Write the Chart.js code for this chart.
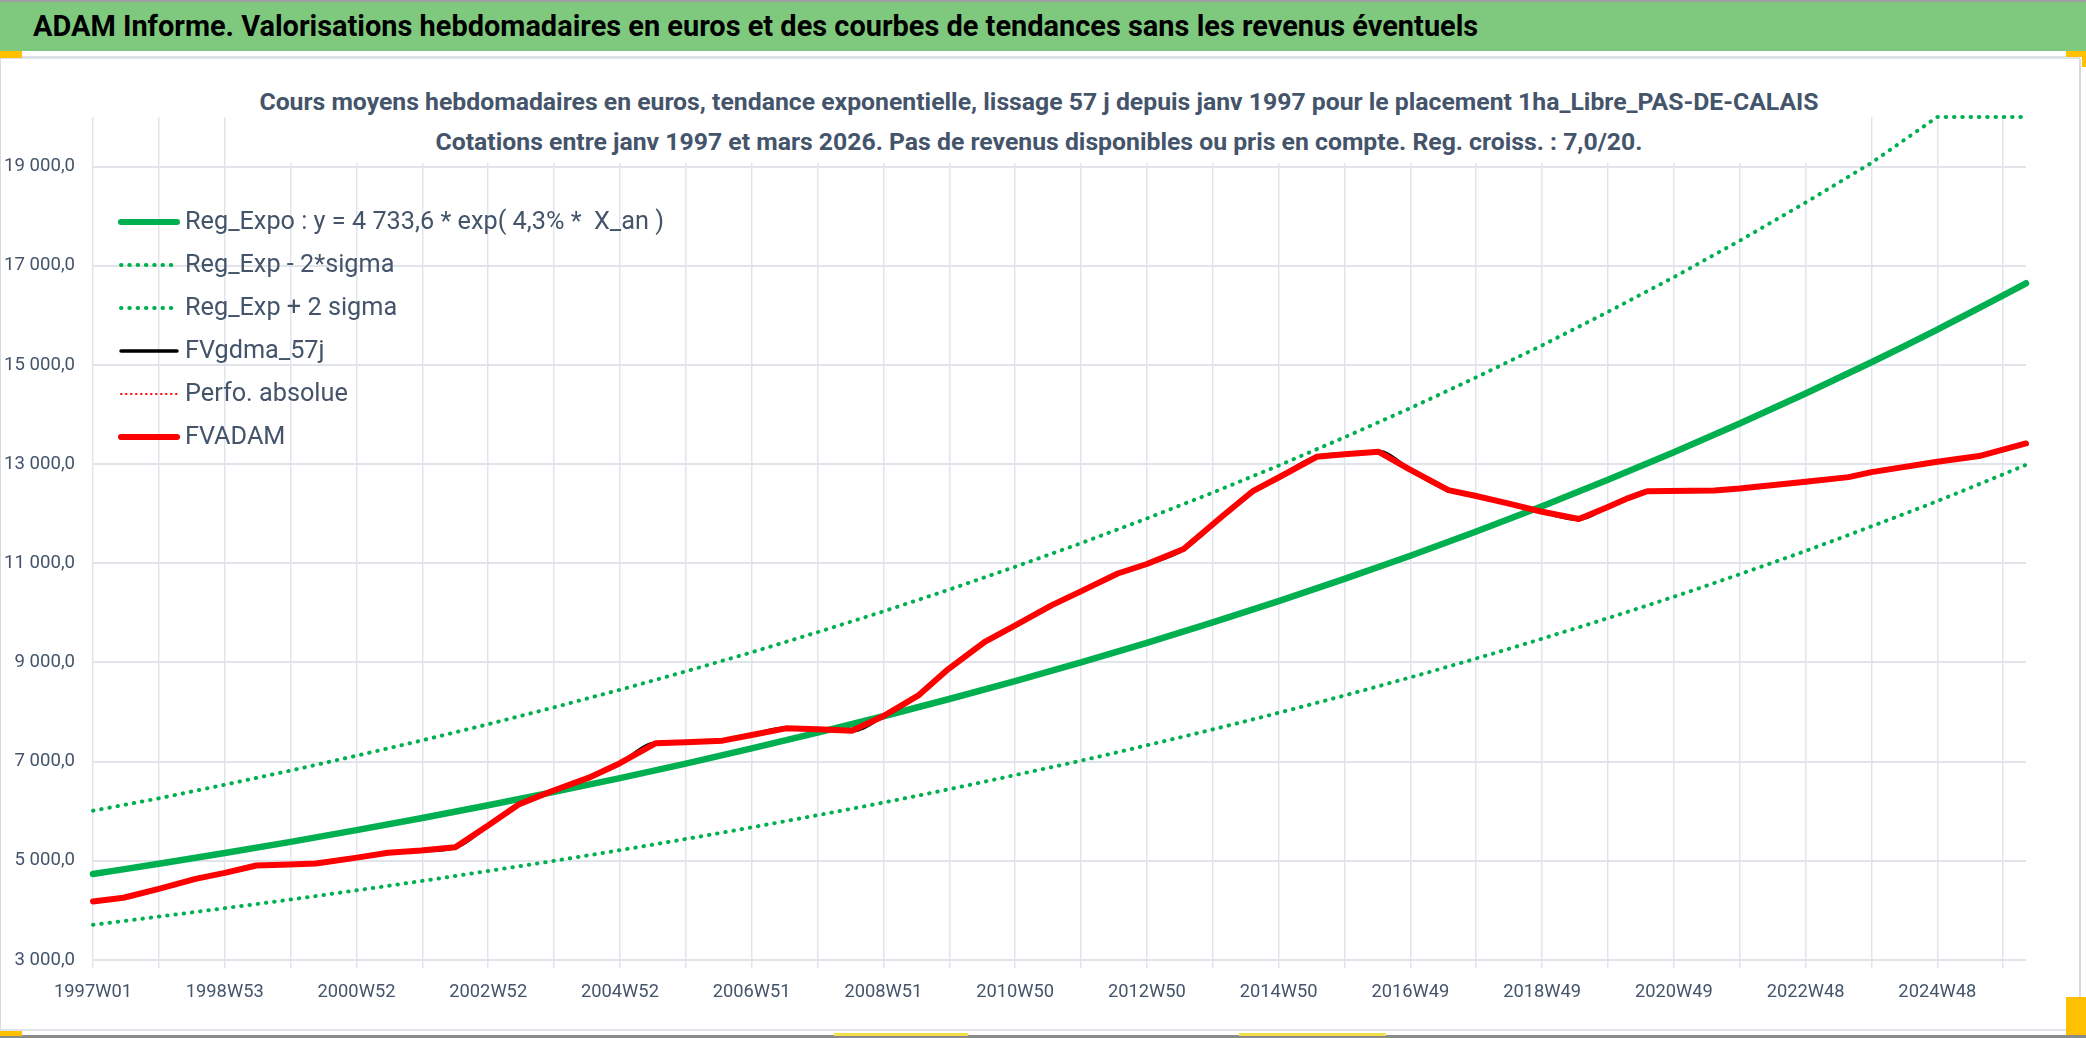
<!DOCTYPE html>
<html lang="fr">
<head>
<meta charset="utf-8">
<title>ADAM Informe</title>
<script src="https://cdn.jsdelivr.net/npm/chart.js@4.4.1/dist/chart.umd.min.js"></script>
<style>
  html, body { margin: 0; padding: 0; background: #fff; }
  body { width: 2086px; height: 1038px; position: relative; overflow: hidden;
         font-family: Roboto, 'Open Sans', sans-serif; }
  .abs { position: absolute; }
  #banner { left: 0; top: 2px; width: 2086px; height: 49px; background: #7fc97f;
            font-weight: bold; font-size: 28px; line-height: 49px; color: #000;
            white-space: nowrap; }
  #banner span { position: absolute; left: 33px; }
  #chartBox { left: 0; top: 60px; width: 2080px; height: 970px; }
  #chartTitle { left: 259px; top: 82px; width: 1560px; height: 81px; background: #fff;
                text-align: center; font-weight: bold; font-size: 23px; line-height: 40px;
                color: #44546a; white-space: nowrap; }
</style>
</head>
<body>
<div class="abs" style="left:0;top:0;width:2086px;height:2px;background:#a0a0a0"></div>
<div id="banner" class="abs"><span id="bannerText">ADAM Informe. Valorisations hebdomadaires en euros et des courbes de tendances sans les revenus éventuels</span></div>
<div class="abs" style="left:0;top:56px;width:2080px;height:3px;background:#dfe2e7"></div>
<div class="abs" style="left:0;top:51px;width:22px;height:7px;background:#ffc000"></div>
<div class="abs" style="left:2066px;top:51px;width:20px;height:6px;background:#ffc000"></div>
<div class="abs" style="left:2082px;top:51px;width:4px;height:16px;background:#ffc000"></div>
<div class="abs" style="left:0;top:59px;width:1px;height:972px;background:#d6d9de"></div>
<div class="abs" style="left:2079px;top:59px;width:2px;height:972px;background:#d6d9de"></div>
<div class="abs" style="left:0;top:1029px;width:2080px;height:2px;background:#dfe2e7"></div>
<div class="abs" style="left:0;top:1035px;width:2086px;height:3px;background:#8a8a8a"></div>
<div class="abs" style="left:0;top:1031px;width:22px;height:5px;background:#ffc000"></div>
<div class="abs" style="left:834px;top:1033px;width:134px;height:3px;background:#f2e04a"></div>
<div class="abs" style="left:1239px;top:1033px;width:147px;height:3px;background:#f2e04a"></div>
<div class="abs" style="left:2066px;top:997px;width:20px;height:38px;background:#ffc000"></div>

<div id="chartBox" class="abs"><canvas id="adamChart"></canvas></div>
<div id="chartTitle" class="abs"><span id="title1">Cours moyens hebdomadaires en euros, tendance exponentielle, lissage 57 j depuis janv 1997 pour le placement 1ha_Libre_PAS-DE-CALAIS</span><br><span id="title2">Cotations entre janv 1997 et mars 2026. Pas de revenus disponibles ou pris en compte. Reg. croiss. : 7,0/20.</span></div>

<script>
// x = week index since 1997W01
const xLabels = ['1997W01', '1998W53', '2000W52', '2002W52', '2004W52', '2006W51', '2008W51',
  '2010W50', '2012W50', '2014W50', '2016W49', '2018W49', '2020W49', '2022W48', '2024W48'];
const yTicks = [3000, 5000, 7000, 9000, 11000, 13000, 15000, 17000, 19000];
const LAST_WEEK = 1526;
const GRID_STEP = 52;
const LABEL_STEP = 104;

// trend + bands, read at each yearly gridline
const regWeeks = [0, 52, 104, 156, 208, 260, 312, 364, 416, 468, 520, 572, 624, 676, 728, 780,
  832, 884, 936, 988, 1040, 1092, 1144, 1196, 1248, 1300, 1352, 1404, 1456, 1508, 1526];
const regExpo = [4734, 4941, 5157, 5383, 5619, 5865, 6121, 6390, 6669, 6961, 7266, 7584, 7916,
  8263, 8625, 9002, 9397, 9808, 10237, 10686, 11153, 11642, 12152, 12683, 13238, 13818, 14423,
  15055, 15714, 16402, 16647];
const regLow = [3710, 3875, 4045, 4220, 4405, 4595, 4795, 5000, 5215, 5440, 5675, 5920, 6175,
  6445, 6730, 7020, 7330, 7650, 7985, 8335, 8700, 9080, 9480, 9895, 10325, 10780, 11250, 11745,
  12255, 12795, 12985];
const regHigh = [6010, 6260, 6535, 6820, 7120, 7430, 7755, 8095, 8450, 8820, 9205, 9610, 10030,
  10470, 10930, 11405, 11905, 12425, 12970, 13540, 14130, 14750, 15395, 16070, 16770, 17505,
  18275, 19075, 20000, 20000, 20000];

// FVADAM and its 57 j moving average
const fvWeeks = [0, 24, 52, 81, 104, 129, 155, 176, 207, 233, 259, 286, 311, 336, 362, 391, 416,
  444, 468, 497, 520, 547, 572, 599, 623, 652, 675, 704, 727, 757, 779, 809, 832, 861, 892, 916,
  936, 966, 988, 1015, 1039, 1070, 1091, 1117, 1143, 1173, 1195, 1212, 1227, 1280, 1300, 1352,
  1386, 1404, 1456, 1489, 1526];
const fvAdam = [4180, 4255, 4436, 4637, 4758, 4905, 4925, 4946, 5060, 5161, 5207, 5274, 5697,
  6134, 6402, 6672, 6968, 7370, 7391, 7423, 7538, 7672, 7652, 7624, 7906, 8343, 8861, 9417, 9733,
  10156, 10424, 10794, 10986, 11288, 11959, 12462, 12730, 13147, 13201, 13248, 12899, 12476,
  12362, 12207, 12045, 11892, 12126, 12315, 12452, 12469, 12507, 12646, 12738, 12839, 13046,
  13163, 13417];
const fvGdma = [4180, 4255, 4436, 4637, 4758, 4905, 4925, 4946, 5060, 5161, 5207, 5274, 5697,
  6134, 6402, 6672, 6968, 7370, 7391, 7423, 7538, 7672, 7652, 7624, 7906, 8343, 8861, 9417, 9733,
  10156, 10424, 10794, 10986, 11288, 11959, 12462, 12730, 13147, 13201, 13248, 12899, 12476,
  12362, 12207, 12045, 11892, 12126, 12315, 12452, 12469, 12507, 12646, 12738, 12839, 13046,
  13163, 13417];
const perfoAbsolue = [];

const FAMILY = "Roboto, 'Open Sans', sans-serif";
const GREEN = '#00b050';
const RED = '#ff0000';
const TEXT = '#44546a';
const GRID = '#e1e5eb';

function pts(xs, ys) {
  return ys.map((y, i) => ({ x: xs[i], y: y }));
}

function frNum(v) {
  return String(Math.round(v)).replace(/\B(?=(\d{3})+(?!\d))/g, ' ') + ',0';
}

// font size that gives the text the width it has in the reference (Calibri is narrower)
const measureCtx = document.createElement('canvas').getContext('2d');
function fitSize(text, weight, width) {
  measureCtx.font = weight + ' 100px ' + FAMILY;
  return 100 * width / measureCtx.measureText(text).width;
}

let legendSize = 22;

// legend drawn inside the plot, top left
const insideLegend = {
  id: 'insideLegend',
  afterDraw(chart) {
    const ctx = chart.ctx;
    const top = chart.chartArea.top + 105;
    ctx.save();
    ctx.font = legendSize + 'px ' + FAMILY;
    ctx.textBaseline = 'middle';
    chart.data.datasets.forEach((ds, i) => {
      const y = top + i * 43;
      ctx.save();
      ctx.strokeStyle = ds.borderColor;
      ctx.lineWidth = ds.legendWidth || ds.borderWidth;
      ctx.setLineDash(ds.borderDash || []);
      ctx.lineCap = 'round';
      ctx.beginPath();
      ctx.moveTo(121, y);
      ctx.lineTo(177, y);
      ctx.stroke();
      ctx.restore();
      ctx.fillStyle = TEXT;
      ctx.fillText(ds.label, 185, y + 1);
    });
    ctx.restore();
  }
};

document.addEventListener('DOMContentLoaded', () => {
  Chart.defaults.font.family = FAMILY;
  Chart.defaults.color = TEXT;

  const banner = document.getElementById('bannerText');
  document.getElementById('banner').style.fontSize = fitSize(banner.textContent, 'bold', 1446) + 'px';
  const t1 = document.getElementById('title1');
  document.getElementById('chartTitle').style.fontSize = fitSize(t1.textContent, 'bold', 1560) + 'px';

  legendSize = fitSize('Reg_Expo : y = 4 733,6 * exp( 4,3% *  X_an )', 'normal', 479);
  const ySize = fitSize('19 000,0', 'normal', 71);
  const xSize = fitSize('1997W01', 'normal', 78);

  const ctx = document.getElementById('adamChart');
  new Chart(ctx, {
    type: 'line',
    data: {
      datasets: [
        { label: 'Reg_Expo : y = 4 733,6 * exp( 4,3% *  X_an )', data: pts(regWeeks, regExpo),
          borderColor: GREEN, borderWidth: 6.5, legendWidth: 6, cubicInterpolationMode: 'monotone', order: 2 },
        { label: 'Reg_Exp - 2*sigma', data: pts(regWeeks, regLow),
          borderColor: GREEN, borderWidth: 4, borderDash: [0.5, 7.8], borderCapStyle: 'round',
          cubicInterpolationMode: 'monotone', order: 3 },
        { label: 'Reg_Exp + 2 sigma', data: pts(regWeeks, regHigh),
          borderColor: GREEN, borderWidth: 4, borderDash: [0.5, 7.8], borderCapStyle: 'round',
          order: 3 },
        { label: 'FVgdma_57j', data: pts(fvWeeks, fvGdma),
          borderColor: '#000000', borderWidth: 4, legendWidth: 3.5, cubicInterpolationMode: 'monotone', order: 1 },
        { label: 'Perfo. absolue', data: perfoAbsolue,
          borderColor: RED, borderWidth: 2, borderDash: [0.5, 4.5], order: 4 },
        { label: 'FVADAM', data: pts(fvWeeks, fvAdam),
          borderColor: RED, borderWidth: 6, legendWidth: 6, borderJoinStyle: 'round', tension: 0, order: 0 }
      ]
    },
    options: {
      responsive: true,
      maintainAspectRatio: false,
      animation: false,
      events: [],
      clip: 6,
      elements: { point: { radius: 0 }, line: { borderCapStyle: 'round' } },
      layout: { padding: { top: 57, right: 54, left: 0, bottom: 0 } },
      plugins: { legend: { display: false }, title: { display: false }, tooltip: { enabled: false } },
      scales: {
        x: {
          type: 'linear',
          min: 0,
          max: LAST_WEEK,
          border: { display: false },
          grid: { color: GRID, lineWidth: 1.5, drawTicks: true, tickLength: 8 },
          ticks: {
            autoSkip: false, maxRotation: 0, padding: 13,
            font: { size: xSize }, color: TEXT,
            callback: v => (v % LABEL_STEP === 0 ? xLabels[v / LABEL_STEP] : '')
          },
          afterBuildTicks: scale => {
            const t = [];
            for (let w = 0; w <= LAST_WEEK; w += GRID_STEP) t.push({ value: w });
            scale.ticks = t;
          },
          afterFit: scale => { scale.height = 70; }
        },
        y: {
          min: 3000,
          max: 20000,
          border: { display: false },
          grid: { color: GRID, lineWidth: 2, drawTicks: false },
          ticks: { padding: 18, font: { size: ySize }, color: TEXT, callback: v => frNum(v) },
          afterBuildTicks: scale => { scale.ticks = yTicks.map(v => ({ value: v })); },
          afterFit: scale => { scale.width = 93; }
        }
      }
    },
    plugins: [insideLegend]
  });
});
</script>
</body>
</html>
